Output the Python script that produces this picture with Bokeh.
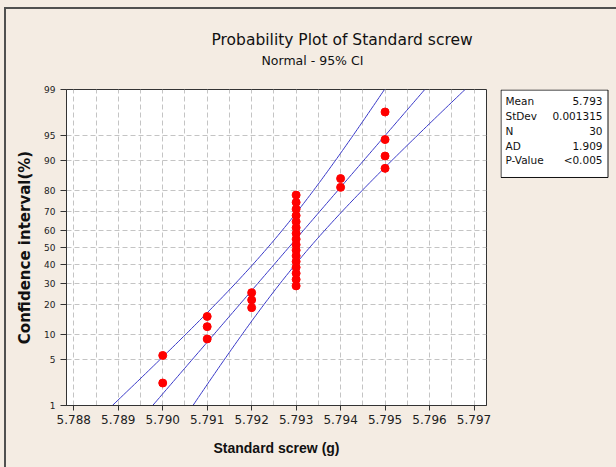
from statistics import NormalDist
import numpy as np
from bokeh.plotting import figure
from bokeh.layouts import row
from bokeh.models import Range1d, FixedTicker, NumeralTickFormatter, Title
from bokeh.core.properties import value
from bokeh.embed import file_html
from bokeh.resources import INLINE

# ---- data ----
weights = [5.790, 5.790,
           5.791, 5.791, 5.791,
           5.792, 5.792, 5.792,
           5.793, 5.793, 5.793, 5.793, 5.793, 5.793, 5.793, 5.793,
           5.793, 5.793, 5.793, 5.793, 5.793, 5.793, 5.793, 5.793,
           5.794, 5.794,
           5.795, 5.795, 5.795, 5.795]
percents = [2.3, 5.6,
            8.9, 12.2, 15.5,
            18.8, 22.0, 25.3,
            28.6, 31.9, 35.2, 38.5, 41.8, 45.1, 48.4, 51.6,
            54.9, 58.2, 61.5, 64.8, 68.1, 71.4, 74.7, 78.0,
            81.2, 84.5,
            87.8, 91.1, 94.4, 97.7]
y_tick_pct = [1, 5, 10, 20, 30, 40, 50, 60, 70, 80, 90, 95, 99]
x_ticks = [5.788, 5.789, 5.790, 5.791, 5.792, 5.793, 5.794, 5.795, 5.796, 5.797]
x_minor = [5.7875, 5.7885, 5.7895, 5.7905, 5.7915, 5.7925, 5.7935, 5.7945, 5.7955, 5.7965, 5.7975]
stats_names = ["Mean", "StDev", "N", "AD", "P-Value"]
stats_values = ["5.793", "0.001315", "30", "1.909", "<0.005"]
conf_level = 0.95

nd = NormalDist()
def zq(pct):
    return round(nd.inv_cdf(pct / 100.0), 6)

# fitted normal line and 95% confidence bands
mean = float(np.mean(weights))
sd = float(np.std(weights, ddof=1))
n = len(weights)
zc = nd.inv_cdf(0.5 + conf_level / 2)
zz = np.linspace(zq(1), zq(99), 120)
fit_x = mean + zz * sd
half = zc * sd * np.sqrt(1.0 / n + zz ** 2 / (2.0 * n))

BG = "#f4ece3"
EDGE = "#505050"
FONT = "DejaVu Sans"

p = figure(width=500, height=467, output_backend="svg", toolbar_location=None,
           title=None,
           x_range=Range1d(5.787836, 5.797281),
           y_range=Range1d(zq(1), zq(99)),
           min_border_left=66, min_border_right=14,
           min_border_top=89, min_border_bottom=62,
           background_fill_color="white", border_fill_color=BG, border_fill_alpha=0.0,
           outline_line_color="#333333", outline_line_width=1)
p.styles = {"background-color": BG,
            "background-image": f"linear-gradient({EDGE},{EDGE}), linear-gradient({EDGE},{EDGE})",
            "background-size": "2px 100%, 100% 2px",
            "background-position": "4px 7px, 4px 7px",
            "background-repeat": "no-repeat"}

# titles, stacked upward from the frame: spacer, subtitle, title
p.add_layout(Title(text=" ", align="left", standoff=8, text_font=FONT,
                   text_font_size="10px", text_font_style="normal"), "above")
p.add_layout(Title(text="Normal - 95% CI", align="left", offset=195, standoff=2,
                   text_font=FONT, text_font_size="12.5px", text_font_style="normal",
                   text_color="#111111"), "above")
p.add_layout(Title(text="Probability Plot of  Standard screw", align="left", offset=145,
                   standoff=1, text_font=FONT, text_font_size="15.5px",
                   text_font_style="normal", text_color="#111111"), "above")

# axes
p.xaxis.ticker = FixedTicker(ticks=x_ticks, minor_ticks=x_minor)
p.xaxis.formatter = NumeralTickFormatter(format="0.000")
p.xaxis.axis_label = "Standard screw (g)"
p.yaxis.ticker = FixedTicker(ticks=[zq(v) for v in y_tick_pct])
p.yaxis.major_label_overrides = {zq(v): str(v) for v in y_tick_pct}
p.yaxis.axis_label = "Confidence interval(%)"

for ax in (p.xaxis, p.yaxis):
    ax.axis_line_color = "#333333"
    ax.major_tick_line_color = "#333333"
    ax.major_tick_in = 0
    ax.minor_tick_line_color = None
    ax.major_label_text_font = FONT
    ax.major_label_text_color = "#222222"
    ax.axis_label_text_font_style = "bold"
    ax.axis_label_text_color = "#111111"

p.xaxis.major_tick_out = 5
p.yaxis.major_tick_out = 6
p.xaxis.major_label_text_font_size = "12px"
p.xaxis.major_label_standoff = 4
p.xaxis.axis_label_text_font = "Liberation Sans"
p.xaxis.axis_label_text_font_size = "14px"
p.xaxis.axis_label_standoff = 13
p.yaxis.major_label_text_font_size = "9px"
p.yaxis.major_label_standoff = 5
p.yaxis.axis_label_text_font = FONT
p.yaxis.axis_label_text_font_size = "15px"
p.yaxis.axis_label_standoff = 7

# grid
p.xgrid.grid_line_color = "#c4c4c4"
p.xgrid.grid_line_dash = "5 3"
p.xgrid.minor_grid_line_color = "#c4c4c4"
p.xgrid.minor_grid_line_dash = "5 3"
p.ygrid.grid_line_color = "#c4c4c4"
p.ygrid.grid_line_dash = "5 3"

# lines
LINE = "#3a3ac8"
p.line(fit_x, zz, line_color=LINE, line_width=1)
p.line(fit_x - half, zz, line_color=LINE, line_width=1)
p.line(fit_x + half, zz, line_color=LINE, line_width=1)

# points
p.scatter(weights, [zq(v) for v in percents], size=8, fill_color="#ff0000", line_color="#ff0000")

# ---- statistics box: a small plot to the right (frame aligned with the main one) ----
rows = list(range(len(stats_names)))
s = figure(width=116, height=467, output_backend="svg", toolbar_location=None,
           title=None, x_axis_type=None, y_axis_type=None,
           x_range=Range1d(0, 116), y_range=Range1d(20.68, -0.816),
           min_border_left=0, min_border_right=0,
           min_border_top=89, min_border_bottom=62,
           background_fill_color=BG, background_fill_alpha=0.0,
           border_fill_color=BG, border_fill_alpha=0.0,
           outline_line_color=None)
s.styles = {"background": (f"linear-gradient(to bottom, {BG} 0px, {BG} 7px, {EDGE} 7px, "
                           f"{EDGE} 9px, {BG} 9px, {BG} 100%)")}
s.quad(left=[0.5], right=[107.5], top=[-0.78], bottom=[5.17],
       fill_color="white", line_color="#111111", line_width=1)
s.text(x=[5] * len(rows), y=rows, text=stats_names, text_align="left",
       text_baseline="middle", text_font=value(FONT),
       text_font_size="10.5px", text_color="#111111")
s.text(x=[102] * len(rows), y=rows, text=stats_values, text_align="right",
       text_baseline="middle", text_font=value(FONT),
       text_font_size="10.5px", text_color="#111111")

layout = row(p, s, spacing=0)
open("out.html", "w").write(file_html(layout, INLINE))
